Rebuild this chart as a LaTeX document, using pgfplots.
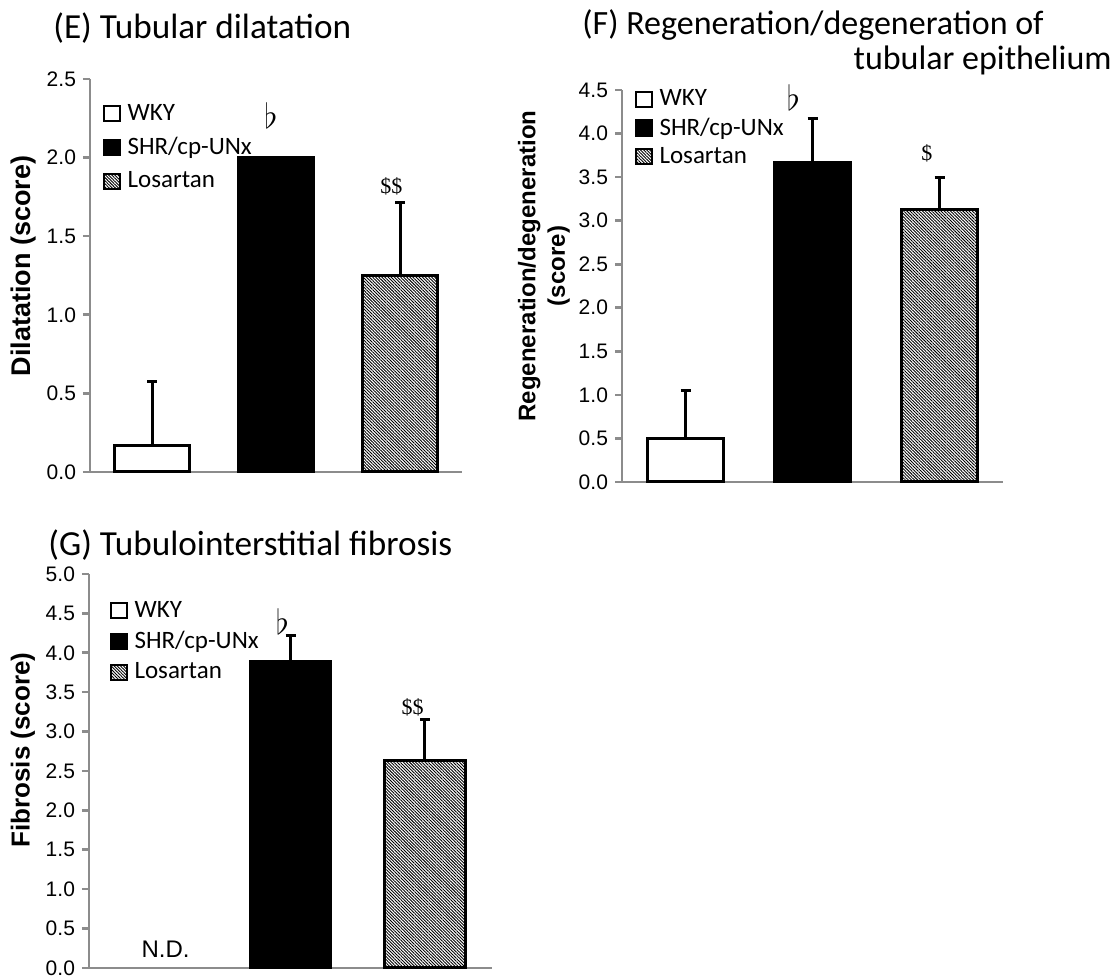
\documentclass[border=0pt]{standalone}
\usepackage{fontspec}
\setmainfont{Liberation Sans}
\newfontfamily\calibri{Carlito}
\newfontfamily\tnr{Liberation Serif}
\usepackage{pgfplots}
\pgfplotsset{compat=1.18}
\usetikzlibrary{patterns.meta}
\definecolor{axgray}{RGB}{140,140,140}

\pgfplotsset{
 panel/.style={
   scale only axis, anchor=south west,
   axis lines*=left,
   axis line style={axgray, line width=1.3pt},
   xmin=-0.5, xmax=2.5, xtick=\empty, ymin=0,
   ytick pos=left, tick align=outside, major tick length=3.5pt,
   ytick style={axgray, line width=1.3pt},
   yticklabel style={/pgf/number format/.cd, fixed, fixed zerofill, precision=1, assume math mode=true},
   tick label style={font=\fontsize{10.5}{12}\selectfont},
   ybar, bar width=0.6,
   legend cell align=left,
   legend style={draw=none, fill=none, anchor=north west, font=\calibri\fontsize{12.5}{14}\selectfont, row sep=3pt, inner sep=0pt,
     /tikz/every odd column/.append style={column sep=1.5pt}},
   clip=false,
 },
 sq/.style={legend image code/.code={\draw[##1, line width=1pt] (0pt,-3.8pt) rectangle (7.6pt,3.8pt);}},
 wky/.style={draw=black, fill=white, line width=1.5pt, bar shift=0pt, sq},
 shr/.style={draw=black, fill=black, line width=1.5pt, bar shift=0pt, sq},
 los/.style={draw=black, pattern={Lines[angle=-45,distance=1.1pt,line width=0.45pt]}, line width=1.5pt, bar shift=0pt, sq},
 eb/.style={error bars/.cd, y dir=plus, y explicit, error bar style={black, line width=1.5pt}, error mark options={black, line width=1.5pt, mark size=2.5pt, rotate=90}},
}

\begin{document}
\begin{tikzpicture}
\path[use as bounding box] (0,0) rectangle (559pt,489pt);

% Panel E
\begin{axis}[panel, at={(45pt,253pt)}, width=186pt, height=196.5pt,
  ymax=2.5, ytick={0,0.5,1,1.5,2,2.5},
  ylabel={Dilatation (score)},
  ylabel style={at={(axis description cs:-0.178,0.524)}, anchor=center, font=\bfseries\fontsize{13.5}{16}\selectfont},
  legend style={at={(0.035,0.947)}}]
\addplot[wky, eb] coordinates {(0,0.167) +- (0,0.408)};
\addplot[shr] coordinates {(1,2.0)};
\addplot[los, eb] coordinates {(2,1.25) +- (0,0.466)};
\legend{WKY, SHR/cp-UNx, Losartan}
\node[font=\fontsize{17}{19}\selectfont] at (axis cs:0.96,2.27) {$\flat$};
\node[font=\tnr\fontsize{11}{13}\selectfont] at (axis cs:1.93,1.82) {\$\$};
\end{axis}

% Panel F
\begin{axis}[panel, at={(311pt,248pt)}, width=190.5pt, height=196pt,
  ymax=4.5, ytick={0,0.5,1,1.5,2,2.5,3,3.5,4,4.5},
  ylabel={Regeneration/degeneration\\(score)},
  ylabel style={align=center, at={(axis description cs:-0.205,0.551)}, anchor=center, font=\bfseries\fontsize{12}{14.75}\selectfont},
  legend style={at={(0.034,1.012)}, row sep=0.5pt}]
\addplot[wky, eb] coordinates {(0,0.5) +- (0,0.55)};
\addplot[shr, eb] coordinates {(1,3.67) +- (0,0.5)};
\addplot[los, eb] coordinates {(2,3.13) +- (0,0.36)};
\legend{WKY, SHR/cp-UNx, Losartan}
\node[font=\fontsize{17}{19}\selectfont] at (axis cs:0.85,4.41) {$\flat$};
\node[font=\tnr\fontsize{11}{13}\selectfont] at (axis cs:1.9,3.77) {\$};
\end{axis}

% Panel G
\begin{axis}[panel, at={(44.5pt,5pt)}, width=201.5pt, height=197pt,
  ymax=5, ytick={0,0.5,1,1.5,2,2.5,3,3.5,4,4.5,5},
  ylabel={Fibrosis (score)},
  ylabel style={at={(axis description cs:-0.164,0.553)}, anchor=center, font=\bfseries\fontsize{13}{15}\selectfont},
  legend style={at={(0.052,0.942)}, row sep=1.5pt}]
\addlegendimage{wky}
\addplot[shr, eb] coordinates {(1,3.89) +- (0,0.33)};
\addplot[los, eb] coordinates {(2,2.63) +- (0,0.52)};
\legend{WKY, SHR/cp-UNx, Losartan}
\node[font=\fontsize{17}{19}\selectfont] at (axis cs:0.94,4.40) {$\flat$};
\node[font=\tnr\fontsize{11}{13}\selectfont] at (axis cs:1.91,3.31) {\$\$};
\node[font=\fontsize{12}{14}\selectfont] at (axis cs:0.07,0.24) {N.D.};
\end{axis}

% Titles
\node[anchor=base west, inner sep=0pt, font=\calibri\fontsize{17.6}{20}\selectfont] at (26.5pt,469.5pt) {(E) Tubular dilatation};
\node[anchor=base west, inner sep=0pt, font=\calibri\fontsize{17}{20}\selectfont] at (291pt,471.5pt) {(F) Regeneration/degeneration of};
\node[anchor=base east, inner sep=0pt, font=\calibri\fontsize{17}{20}\selectfont] at (556pt,454pt) {tubular epithelium};
\node[anchor=base west, inner sep=0pt, font=\calibri\fontsize{17.6}{20}\selectfont] at (24pt,211pt) {(G) Tubulointerstitial fibrosis};
\end{tikzpicture}
\end{document}
